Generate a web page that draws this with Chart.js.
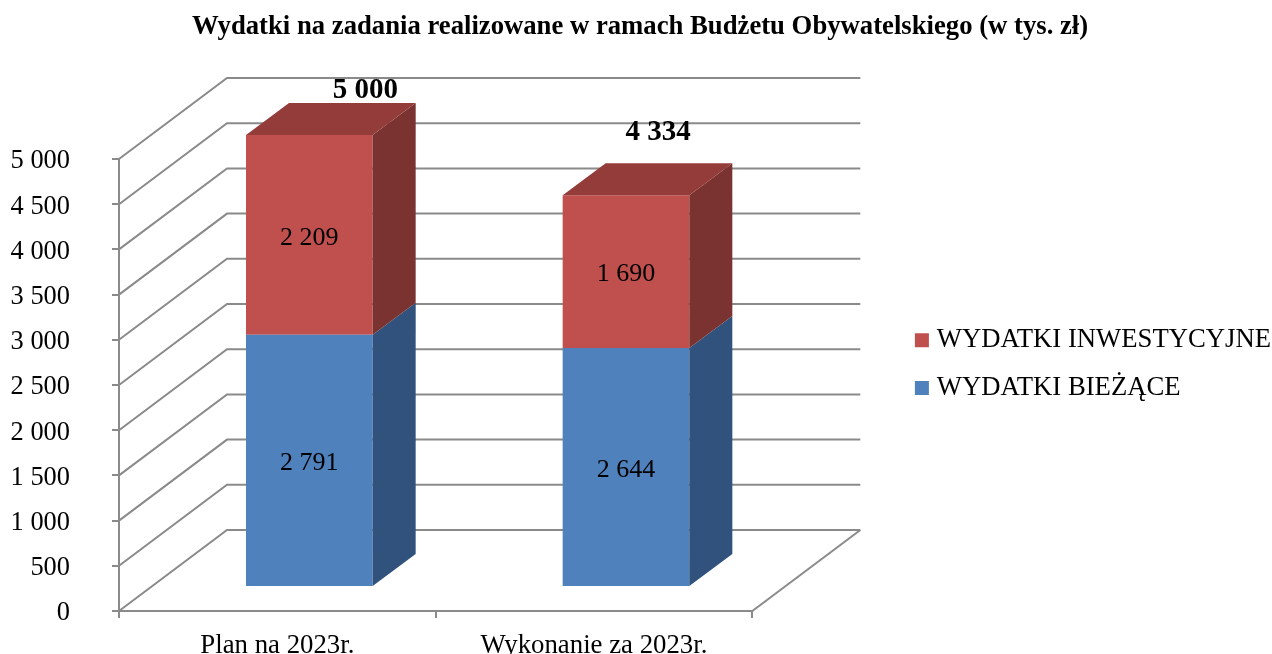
<!DOCTYPE html>
<html lang="pl">
<head>
<meta charset="utf-8">
<title>Wydatki na zadania</title>
<script src="https://cdn.jsdelivr.net/npm/chart.js@4/dist/chart.umd.min.js"></script>
<style>html,body{margin:0;padding:0;background:#fff;overflow:hidden}canvas{display:block}</style>
</head>
<body>
<canvas id="c" width="1272" height="654"></canvas>
<script>
const categories = ["Plan na 2023r.", "Wykonanie za 2023r."];
const biezace = [2791, 2644];
const inwestycyjne = [2209, 1690];
const totals = [5000, 4334];
const titleText = "Wydatki na zadania realizowane w ramach Budżetu Obywatelskiego (w tys. zł)";

const FONT = "'Liberation Serif','Times New Roman',serif";
const GREY = "#8A8A8A";
const fmt = v => String(v).replace(/\B(?=(\d{3})+$)/g, " ");

const wallDepth = { x: 108, y: -81 };
const barShift = { x: 32, y: -24 };
const barDepth = { x: 43, y: -32 };
const totalLabelShift = [{ x: 56, y: -44 }, { x: 32, y: -63 }];
const shades = [
  { side: "#31527C" },
  { side: "#7A3330", top: "#943C3A" }
];

function poly(ctx, pts, fill) {
  ctx.beginPath();
  pts.forEach((p, i) => i ? ctx.lineTo(p[0], p[1]) : ctx.moveTo(p[0], p[1]));
  ctx.closePath();
  ctx.fillStyle = fill;
  ctx.fill();
}

const threeD = {
  id: "threeD",
  afterLayout(chart) {
    const l = chart.legend;
    const p = l.options.labels.padding;
    l.left = 920.4 - p;
    l.right = 1272 + p;
    l.top = 327 - p;
    l.bottom = 640;
  },
  beforeDatasetsDraw(chart) {
    const { ctx, chartArea: a, scales: { y } } = chart;
    ctx.save();
    ctx.strokeStyle = GREY;
    ctx.lineWidth = 2;
    y.ticks.forEach(t => {
      const py = y.getPixelForValue(t.value);
      ctx.beginPath();
      ctx.moveTo(a.left, py);
      ctx.lineTo(a.left + wallDepth.x, py + wallDepth.y);
      ctx.lineTo(a.right + wallDepth.x, py + wallDepth.y);
      ctx.stroke();
    });
    ctx.beginPath();
    ctx.moveTo(a.right, a.bottom);
    ctx.lineTo(a.right + wallDepth.x, a.bottom + wallDepth.y);
    ctx.stroke();
    ctx.restore();
    ctx.save();
    ctx.translate(barShift.x, barShift.y);
  },
  afterDatasetsDraw(chart) {
    const { ctx } = chart;
    const last = chart.data.datasets.length - 1;
    const bars = chart.data.datasets.map((d, i) => chart.getDatasetMeta(i).data);
    bars.forEach((els, i) => els.forEach(el => {
      const half = el.width / 2, r = el.x + half, l = el.x - half;
      poly(ctx, [[r, el.y], [r + barDepth.x, el.y + barDepth.y],
                 [r + barDepth.x, el.base + barDepth.y], [r, el.base]], shades[i].side);
      if (i === last) {
        poly(ctx, [[l, el.y], [l + barDepth.x, el.y + barDepth.y],
                   [r + barDepth.x, el.y + barDepth.y], [r, el.y]], shades[i].top);
      }
    }));
    ctx.textAlign = "center";
    ctx.textBaseline = "middle";
    ctx.fillStyle = "#000";
    ctx.font = "26px " + FONT;
    bars.forEach((els, i) => els.forEach((el, j) => {
      ctx.fillText(fmt(chart.data.datasets[i].data[j]), el.x, (el.y + el.base) / 2 + 3);
    }));
    ctx.font = "bold 29px " + FONT;
    bars[last].forEach((el, j) => ctx.fillText(fmt(totals[j]), el.x + totalLabelShift[j].x, el.y + totalLabelShift[j].y));
    ctx.restore();
  }
};

new Chart(document.getElementById("c"), {
  type: "bar",
  plugins: [threeD],
  data: {
    labels: categories,
    datasets: [
      { label: "WYDATKI BIEŻĄCE", data: biezace, backgroundColor: "#4F81BD", borderWidth: 0 },
      { label: "WYDATKI INWESTYCYJNE", data: inwestycyjne, backgroundColor: "#C0504D", borderWidth: 0 }
    ]
  },
  options: {
    responsive: false,
    animation: false,
    layout: { padding: { left: 8, right: 0, top: 0, bottom: 0 } },
    datasets: { bar: { categoryPercentage: 1, barPercentage: 0.4, clip: false } },
    plugins: {
      tooltip: { enabled: false },
      title: {
        display: true,
        text: titleText,
        color: "#000",
        font: { family: FONT, size: 26.7, weight: "bold", lineHeight: 1.2 },
        padding: { top: 11.5, bottom: 115.46 }
      },
      legend: {
        position: "right",
        align: "start",
        reverse: true,
        labels: {
          usePointStyle: true,
          pointStyle: "rect",
          boxWidth: 3,
          boxHeight: 14,
          padding: 21,
          color: "#000",
          font: { family: FONT, size: 26.7 }
        }
      }
    },
    scales: {
      x: {
        stacked: true,
        afterFit(s) { s.height = 43; s.paddingLeft = 0; s.paddingRight = 0; },
        border: { color: GREY, width: 2 },
        grid: { color: GREY, lineWidth: 2, drawOnChartArea: false, tickLength: 7 },
        ticks: { color: "#000", padding: 12, maxRotation: 0, font: { family: FONT, size: 26.8 } }
      },
      y: {
        stacked: true,
        min: 0,
        max: 5000,
        afterFit(s) { s.width = 111; s.paddingTop = 0; s.paddingBottom = 0; },
        border: { color: GREY, width: 2 },
        grid: { color: GREY, lineWidth: 2, drawOnChartArea: false, tickLength: 7 },
        ticks: { stepSize: 500, color: "#000", padding: 42, labelOffset: 2.5, callback: v => fmt(v), font: { family: FONT, size: 26.4 } }
      },
      pad: {
        position: "right",
        display: true,
        afterFit(s) { s.width = 309; s.paddingTop = 0; s.paddingBottom = 0; },
        border: { display: false },
        grid: { display: false },
        ticks: { display: false }
      }
    }
  }
});
</script>
</body>
</html>
